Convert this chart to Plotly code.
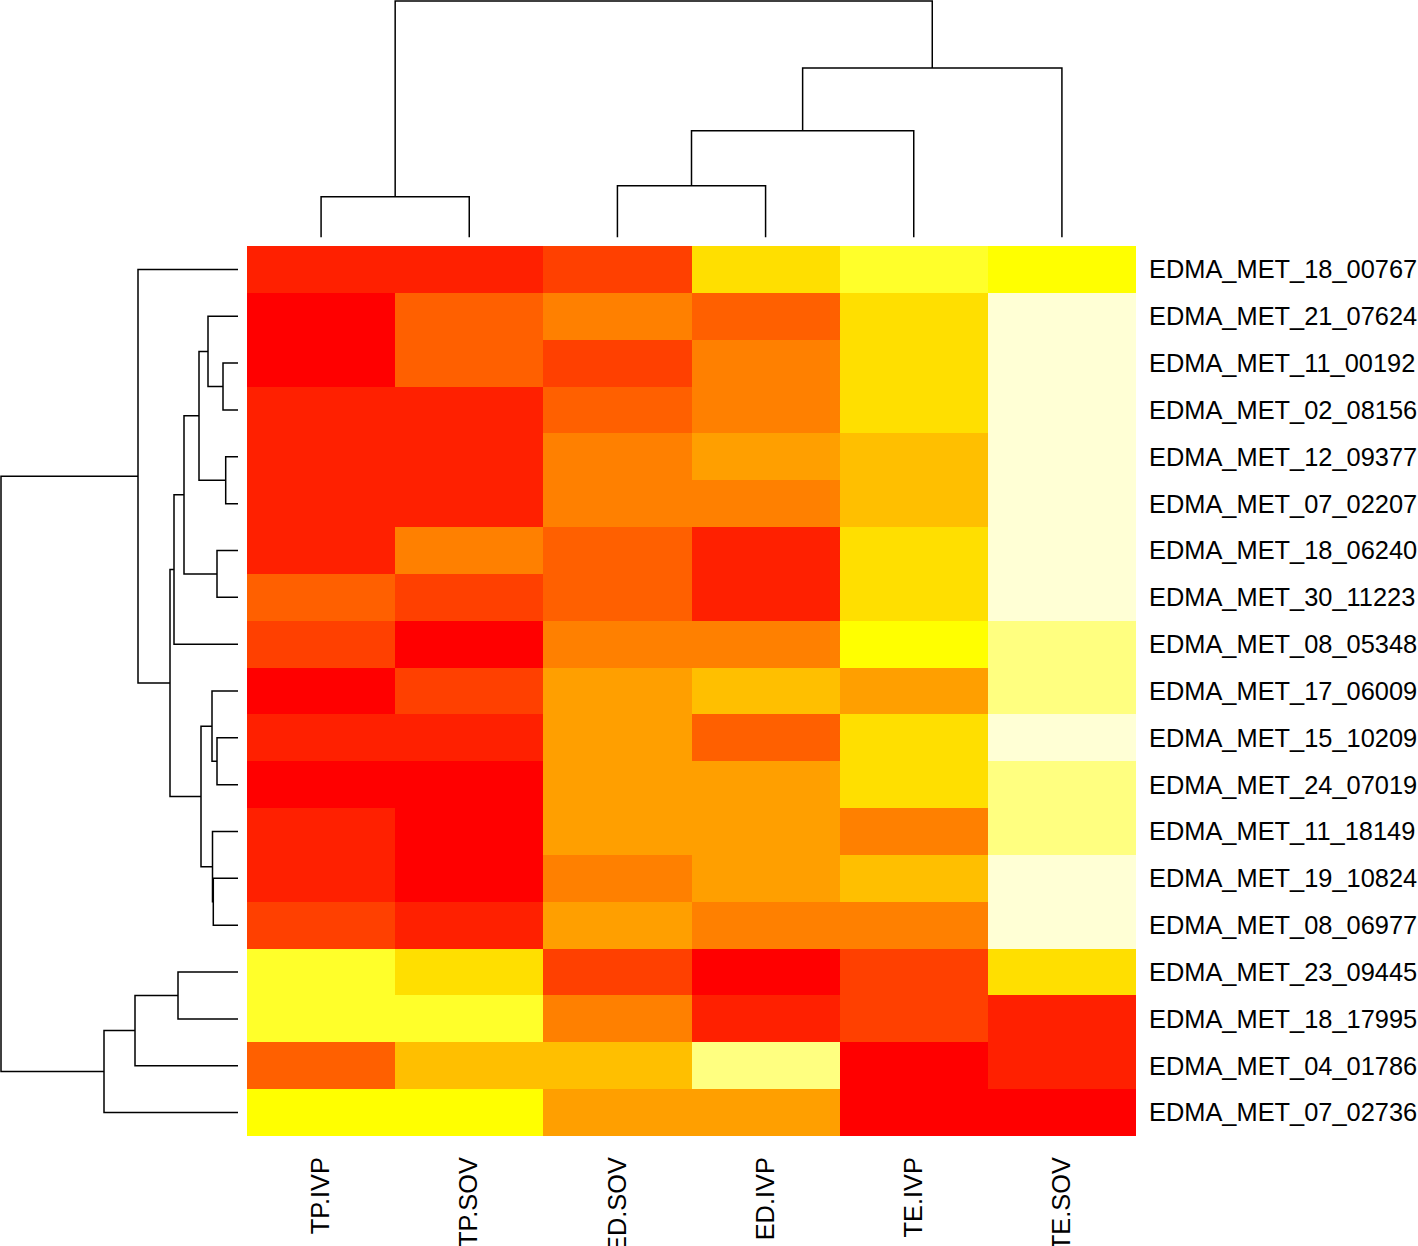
import plotly.graph_objects as go

# ---------------- data ----------------
col_labels = ["TP.IVP", "TP.SOV", "ED.SOV", "ED.IVP", "TE.IVP", "TE.SOV"]
row_labels = [
    "EDMA_MET_18_00767", "EDMA_MET_21_07624", "EDMA_MET_11_00192", "EDMA_MET_02_08156",
    "EDMA_MET_12_09377", "EDMA_MET_07_02207", "EDMA_MET_18_06240", "EDMA_MET_30_11223",
    "EDMA_MET_08_05348", "EDMA_MET_17_06009", "EDMA_MET_15_10209", "EDMA_MET_24_07019",
    "EDMA_MET_11_18149", "EDMA_MET_19_10824", "EDMA_MET_08_06977", "EDMA_MET_23_09445",
    "EDMA_MET_18_17995", "EDMA_MET_04_01786", "EDMA_MET_07_02736",
]
# value levels (1 = lowest / red ... 12 = highest / pale yellow), read per cell
values = [
    [2, 2, 3, 8, 10, 9],
    [1, 4, 5, 4, 8, 12],
    [1, 4, 3, 5, 8, 12],
    [2, 2, 4, 5, 8, 12],
    [2, 2, 5, 6, 7, 12],
    [2, 2, 5, 5, 7, 12],
    [2, 5, 4, 2, 8, 12],
    [4, 3, 4, 2, 8, 12],
    [3, 1, 5, 5, 9, 11],
    [1, 3, 6, 7, 6, 11],
    [2, 2, 6, 4, 8, 12],
    [1, 1, 6, 6, 8, 11],
    [2, 1, 6, 6, 5, 11],
    [2, 1, 5, 6, 7, 12],
    [3, 2, 6, 5, 5, 12],
    [10, 8, 3, 1, 3, 8],
    [10, 10, 5, 2, 3, 2],
    [4, 7, 7, 11, 1, 2],
    [9, 9, 6, 6, 1, 1],
]
heat_colors = ["#FF0000", "#FF2000", "#FF4000", "#FF6000", "#FF8000", "#FF9F00",
               "#FFBF00", "#FFDF00", "#FFFF00", "#FFFF2A", "#FFFF80", "#FFFFD5"]

# hclust-style merges: negative = leaf (1-based, display order), positive = earlier merge
row_merge_left = [-3, -5, -7, -2, 4, 5, 6, -11, -10, -14, -13, 9, 7, -1, -16, 15, 16, 14]
row_merge_right = [-4, -6, -8, 1, 2, 3, -9, -12, 8, -15, 10, 11, 12, 13, -17, -18, -19, 17]
row_merge_height = [15, 12.3, 21, 30, 39, 54, 64, 21, 26, 24.7, 25.5, 37, 68, 100, 60, 103, 134, 237]

col_merge_left = [-1, -3, 2, 3, 1]
col_merge_right = [-2, -4, -5, -6, 4]
col_merge_height = [40.8, 51.8, 106.8, 169.5, 236.5]


def dendro_segments(left, right, heights):
    pos, hgt = {}, {}

    def node(k):
        if k < 0:
            return -k - 1, 0.0
        return pos[k], hgt[k]

    P, H = [], []
    for i, (a, b, h) in enumerate(zip(left, right, heights), start=1):
        pa, ha = node(a)
        pb, hb = node(b)
        P += [pa, pa, pb, pb, None]
        H += [ha, h, h, hb, None]
        pos[i] = (pa + pb) / 2
        hgt[i] = h
    return P, H


W, Hpx = 1418, 1246
hm_l, hm_r, hm_t, hm_b = 247, 1136, 246, 1136
n_rows, n_cols = len(row_labels), len(col_labels)

cs = []
for k, c in enumerate(heat_colors):
    cs.append([k / len(heat_colors), c])
    cs.append([(k + 1) / len(heat_colors), c])

font = dict(family="Liberation Sans, Arial, Helvetica, sans-serif", size=25.4, color="black")

fig = go.Figure()
fig.add_trace(go.Heatmap(
    z=values, x=list(range(n_cols)), y=list(range(n_rows)),
    colorscale=cs, zmin=0.5, zmax=len(heat_colors) + 0.5, showscale=False,
    hoverinfo="skip",
))

rp, rh = dendro_segments(row_merge_left, row_merge_right, row_merge_height)
fig.add_trace(go.Scatter(x=rh, y=rp, mode="lines", xaxis="x2", yaxis="y2",
                         line=dict(color="black", width=1.5), hoverinfo="skip",
                         showlegend=False))
cp, ch = dendro_segments(col_merge_left, col_merge_right, col_merge_height)
fig.add_trace(go.Scatter(x=cp, y=ch, mode="lines", xaxis="x3", yaxis="y3",
                         line=dict(color="black", width=1.5), hoverinfo="skip",
                         showlegend=False))

hm_ydom = [(Hpx - hm_b) / Hpx, (Hpx - hm_t) / Hpx]
hm_xdom = [hm_l / W, hm_r / W]

fig.update_layout(
    width=W, height=Hpx, margin=dict(l=0, r=0, t=0, b=0),
    paper_bgcolor="white", plot_bgcolor="white", showlegend=False,
    xaxis=dict(domain=hm_xdom, range=[-0.5, n_cols - 0.5], tickvals=list(range(n_cols)),
               ticktext=col_labels, tickangle=-90, tickfont=font, ticks="",
               showgrid=False, zeroline=False, showline=False, automargin=False,
               ticklabelstandoff=15, anchor="y"),
    yaxis=dict(domain=hm_ydom, range=[n_rows - 0.5, -0.5], tickvals=list(range(n_rows)),
               ticktext=row_labels, side="right", tickfont=font, ticks="",
               showgrid=False, zeroline=False, showline=False, automargin=False,
               ticklabelstandoff=12, anchor="x"),
    xaxis2=dict(domain=[0, 238 / W], range=[238, 0], visible=False, anchor="y2"),
    yaxis2=dict(domain=hm_ydom, range=[n_rows - 0.5, -0.5], visible=False, anchor="x2"),
    xaxis3=dict(domain=hm_xdom, range=[-0.5, n_cols - 0.5], visible=False, anchor="y3"),
    yaxis3=dict(domain=[(Hpx - 237.5) / Hpx, 1], range=[0, 237.5], visible=False, anchor="x3"),
)

fig.write_html("out.html", config={"displayModeBar": False},
               post_script="document.body.style.margin='0';")
